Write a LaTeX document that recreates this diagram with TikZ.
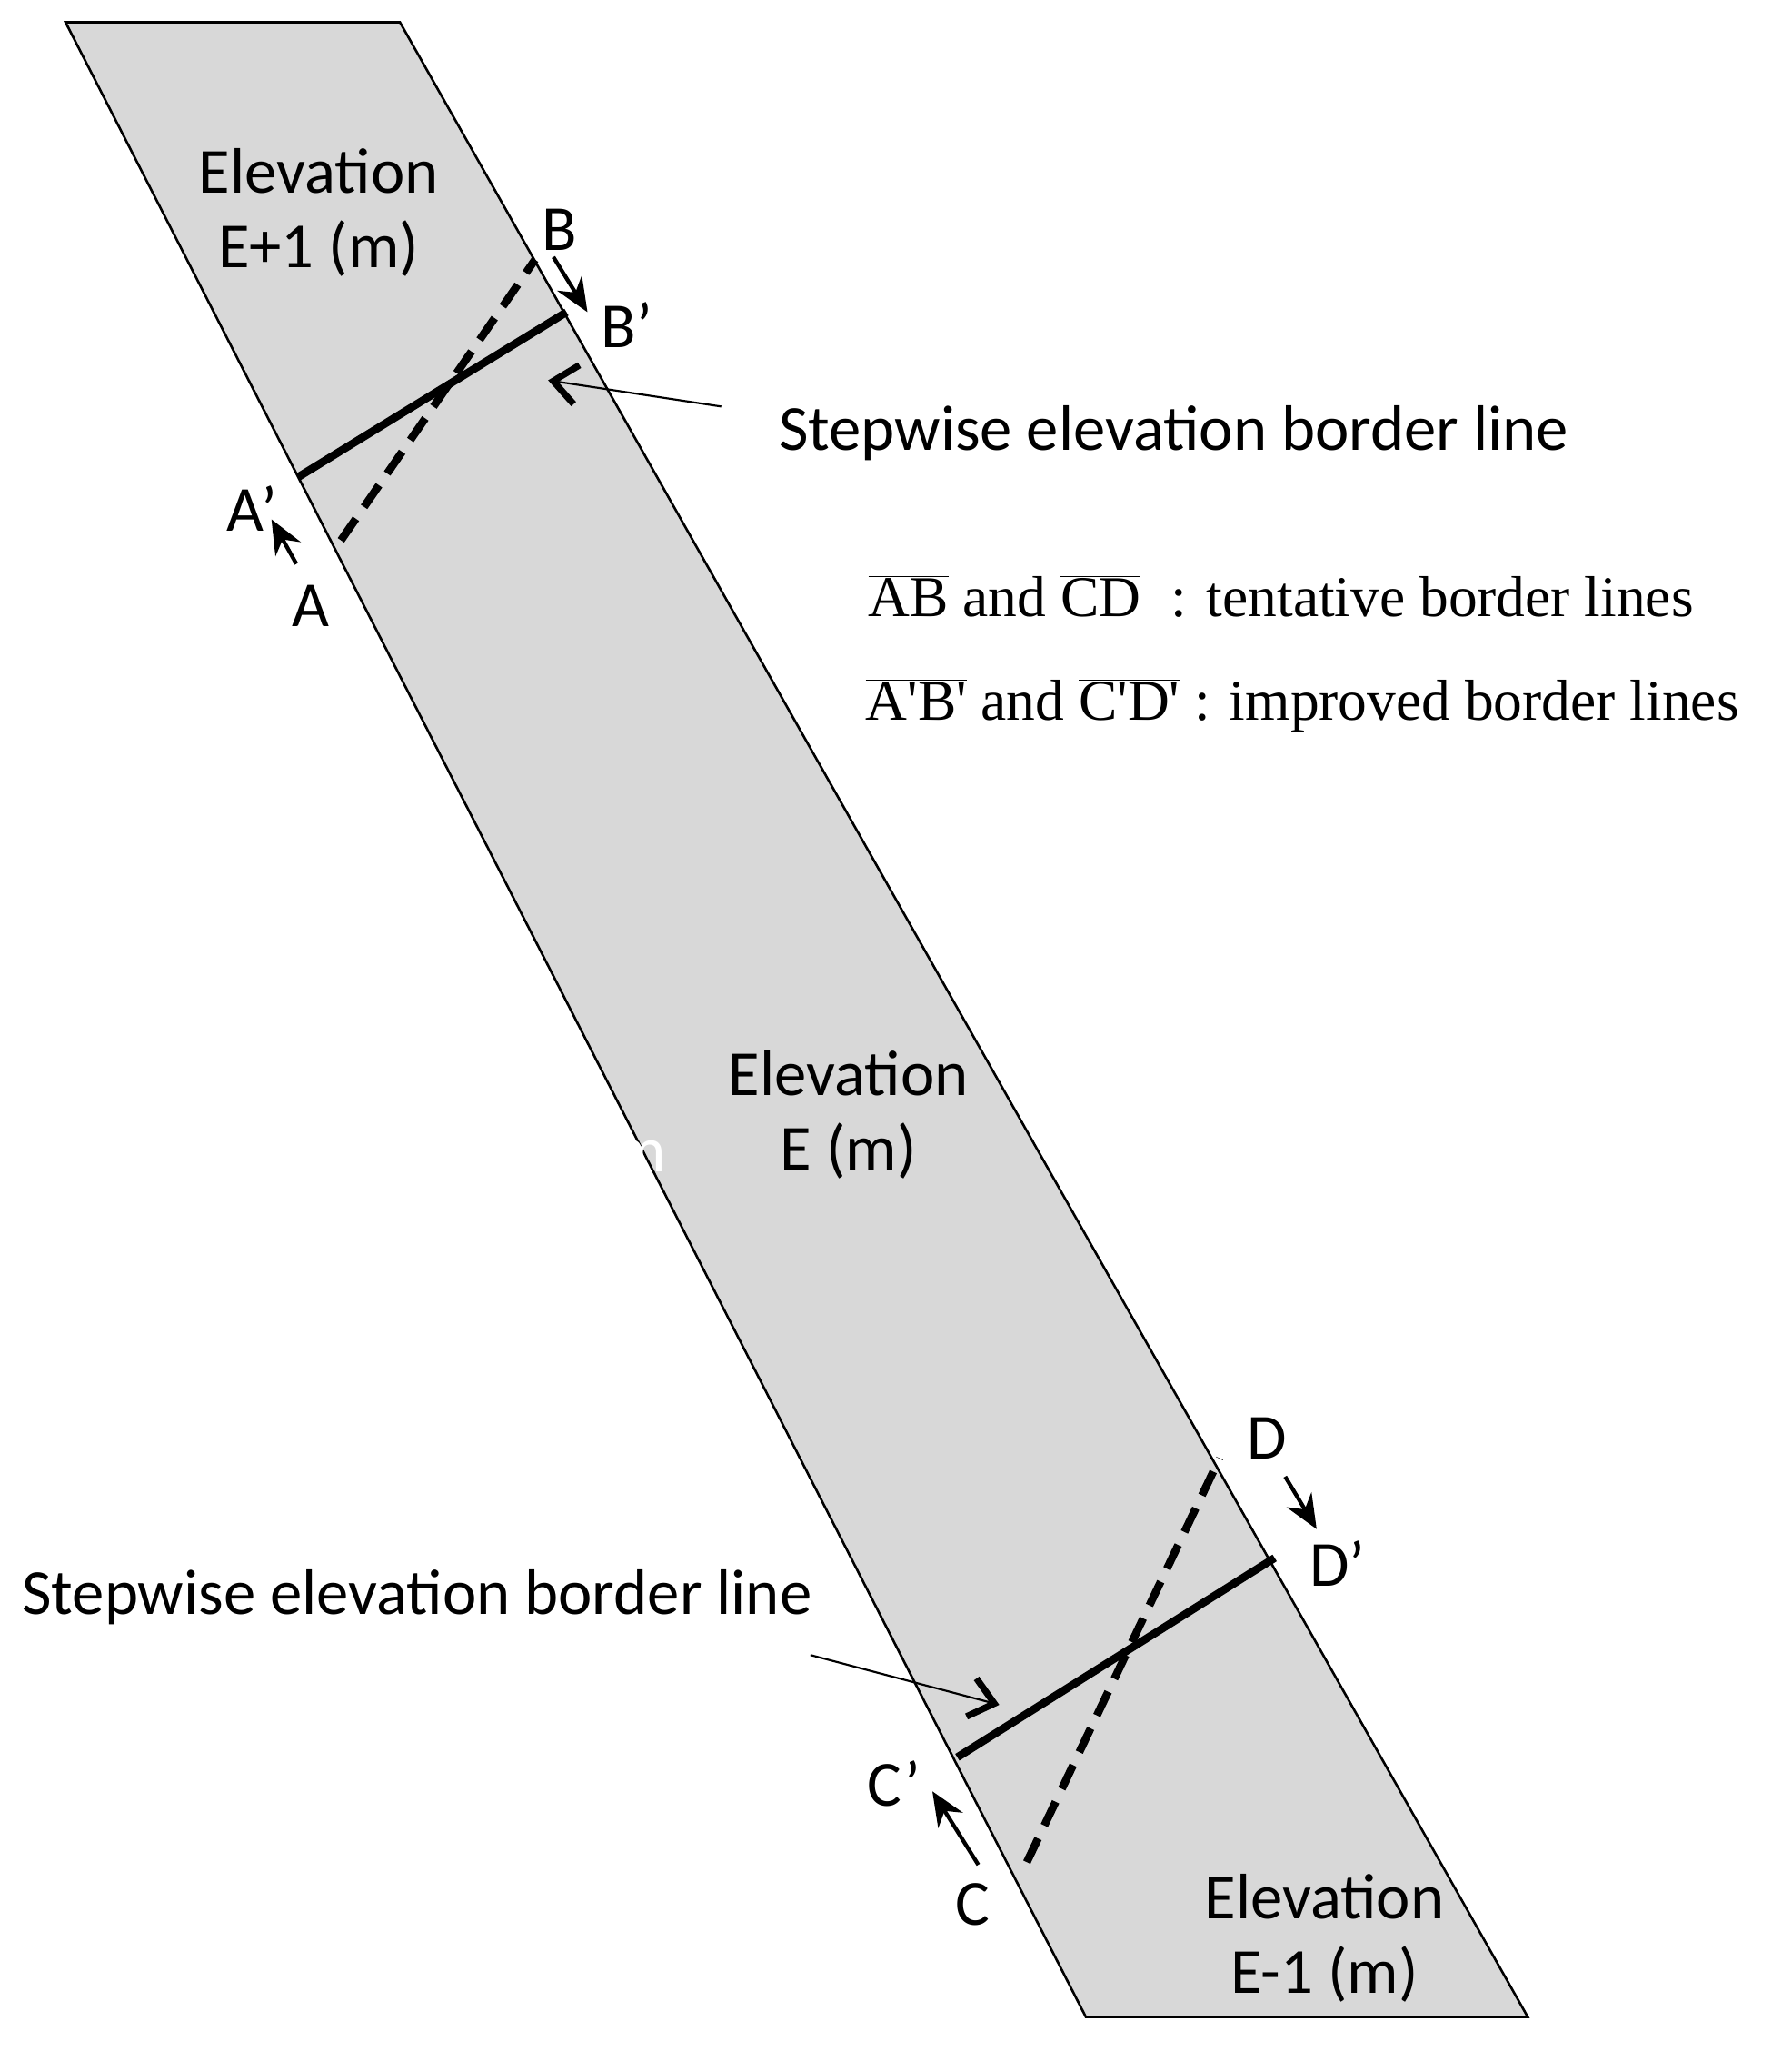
\documentclass[tikz,border=0pt]{standalone}
\usepackage{fontspec}
\setmainfont{Carlito}
\newfontfamily\legfont{Liberation Serif}
\usetikzlibrary{arrows.meta}
\begin{document}
\begin{tikzpicture}[x=1pt,y=-1pt,
  lab/.style={font=\fontsize{49}{57}\selectfont, inner sep=0pt, align=center},
  leg/.style={font=\legfont\fontsize{44}{52}\selectfont, inner sep=0pt, anchor=west},
  solidb/.style={line width=6pt},
  dashb/.style={line width=6pt, dash pattern=on 20pt off 11pt},
  arr/.style={line width=3pt,-{Stealth[length=26pt,width=22pt]}},
  thinarr/.style={line width=1.5pt,-{Straight Barb[length=18pt,width=30pt,line width=5pt]}}]
\useasboundingbox (0,0) rectangle (1366,1564);
\fill[white] (0,0) rectangle (1366,1564);
\draw[fill={rgb,255:red,216;green,216;blue,216}, line width=1.8pt]
  (50,17) -- (305,17) -- (1165,1538) -- (828,1538) -- cycle;
% top
\coordinate (A) at (260,412); \coordinate (B) at (408,198);
\coordinate (Ap) at (227,364); \coordinate (Bp) at (432,238);
\draw[dashb] (A) -- (B);
\draw[solidb] (Ap) -- (Bp);
\coordinate (a1) at (226,430); \coordinate (a2) at (207,396);
\draw[arr] (a1) -- (a2);
\coordinate (b1) at (422,196); \coordinate (b2) at (448,238);
\draw[arr] (b1) -- (b2);
\coordinate (s1) at (550,310); \coordinate (s2) at (418,290);
\draw[thinarr] (s1) -- (s2);
% bottom
\coordinate (C) at (783,1420); \coordinate (D) at (930,1112);
\coordinate (Cp) at (730,1340); \coordinate (Dp) at (972,1188);
\draw[dashb] (C) -- (D);
\draw[solidb] (Cp) -- (Dp);
\coordinate (d1) at (980,1126); \coordinate (d2) at (1004,1166);
\draw[arr] (d1) -- (d2);
\coordinate (c1) at (746,1422); \coordinate (c2) at (711,1366);
\draw[arr] (c1) -- (c2);
\coordinate (t1) at (618,1262); \coordinate (t2) at (762,1300);
\draw[thinarr] (t1) -- (t2);
% labels
\node[lab] (lB) at (427,175) {B};
\node[lab] (lBp) at (478,248) {B’};
\node[lab] (lAp) at (192,388) {A’};
\node[lab] (lA) at (237,462) {A};
\node[lab] (lD) at (966,1097) {D};
\node[lab] (lDp) at (1020,1192) {D’};
\node[lab] (lCp) at (682,1360) {C’};
\node[lab] (lC) at (742,1452) {C};
\node[lab] (e1) at (243,162) {Elevation\\E+1 (m)};
\node[lab] (e0) at (647,850) {Elevation\\E (m)};
\node[lab] (e2) at (1010,1478) {Elevation\\E-1 (m)};
\node[lab, white] (twelve) at (458,878) {12 m};
\node[lab] (st1) at (895,330) {Stepwise elevation border line};
\node[lab] (st2) at (318,1218) {Stepwise elevation border line};
\node[leg] (lg1) at (662,455) {$\overline{\mbox{AB}}$ and $\overline{\mbox{CD}}$\; : tentative border lines};
\node[leg] (lg2) at (660,538) {$\overline{\mbox{A'B'}}$ and $\overline{\mbox{C'D'}}$ : improved border lines};
\end{tikzpicture}
\end{document}
